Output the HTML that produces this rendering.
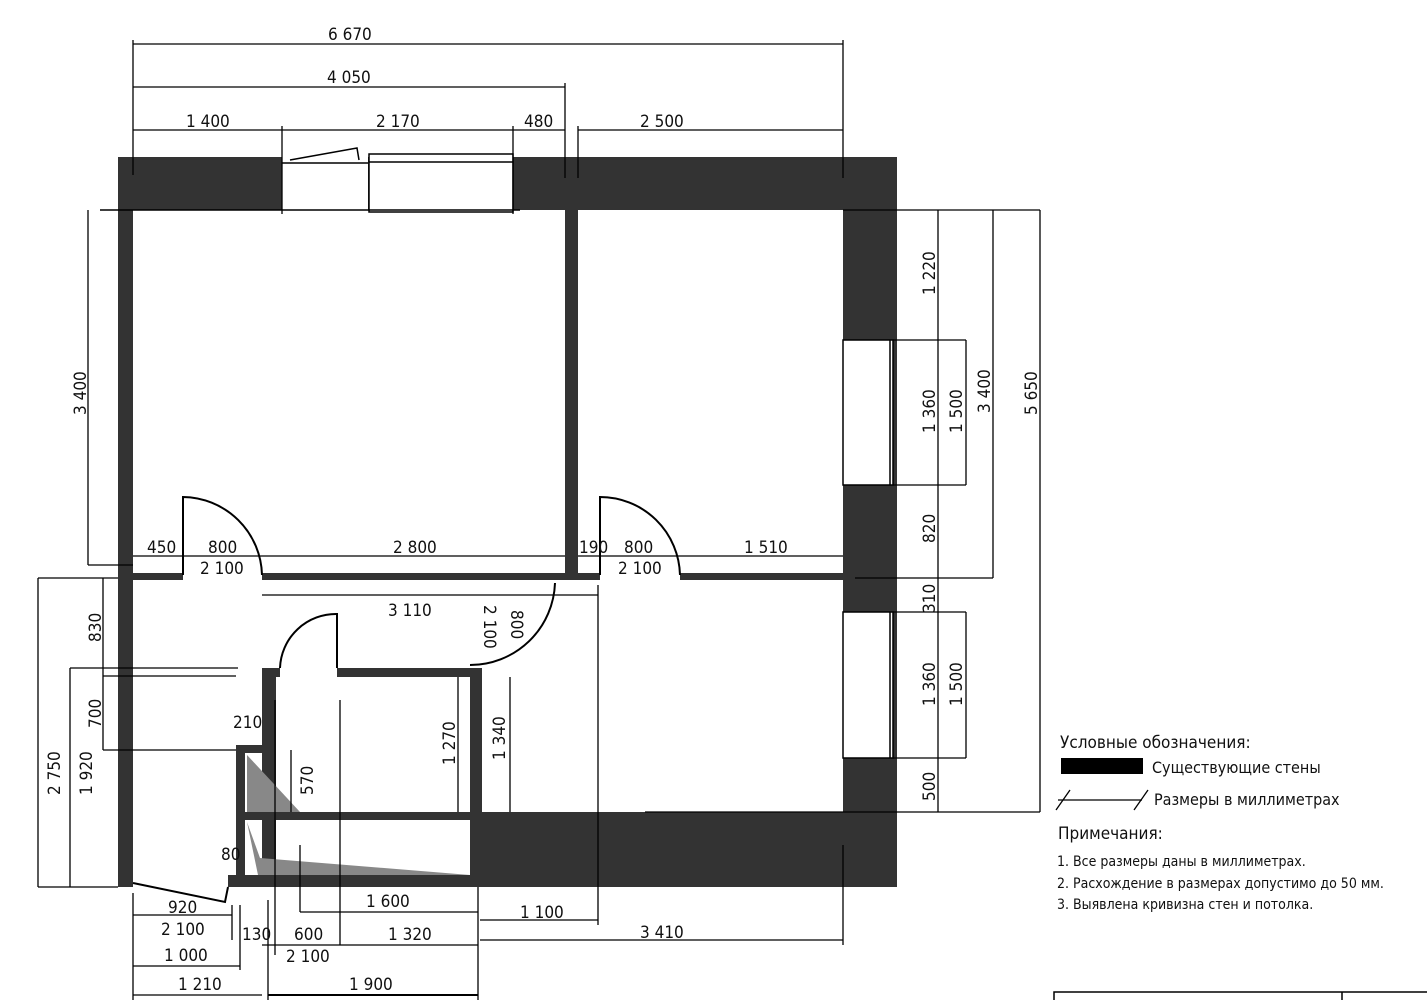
<!DOCTYPE html>
<html><head><meta charset="utf-8"><style>
html,body{margin:0;padding:0;background:#fff;}
svg{display:block}
text{font-family:"DejaVu Sans Condensed","DejaVu Sans","Liberation Sans",sans-serif;font-size:17px;fill:#111}
.t{font-size:16px}
</style></head><body>
<svg width="1427" height="1000" viewBox="0 0 1427 1000" xmlns="http://www.w3.org/2000/svg">
<g fill="#333">
<!-- top wall -->
<rect x="118" y="157" width="779" height="53"/>
<!-- left wall -->
<rect x="118" y="157" width="15" height="730"/>
<!-- right wall -->
<rect x="843" y="157" width="54" height="730"/>
<!-- bottom right wall -->
<rect x="470" y="812" width="427" height="75"/>
<!-- interior vertical -->
<rect x="565" y="210" width="13" height="368"/>
<!-- horizontal interior wall -->
<rect x="133" y="573" width="50" height="7"/>
<rect x="262" y="573" width="338" height="7"/>
<rect x="680" y="573" width="163" height="7"/>
<!-- bathroom block -->
<rect x="262" y="668" width="14" height="219"/>
<rect x="262" y="668" width="18" height="9"/>
<rect x="337" y="668" width="143" height="9"/>
<rect x="470" y="668" width="12" height="219"/>
<rect x="236" y="745" width="30" height="8"/>
<rect x="236" y="745" width="9" height="142"/>
<rect x="245" y="812" width="225" height="8"/>
<rect x="236" y="875" width="240" height="12"/>
<rect x="118" y="875" width="15" height="12"/>
<rect x="228" y="875" width="12" height="12"/>
</g>
<!-- window openings -->
<g fill="#fff" stroke="#000" stroke-width="1.5">
<rect x="282" y="157" width="86" height="53" stroke="none"/>
<rect x="369" y="154" width="144" height="58"/>
<line x1="282" y1="163" x2="368" y2="163"/>
<rect x="843" y="340" width="50" height="145"/>
<rect x="843" y="612" width="50" height="146"/>
</g>
<g stroke="#000" stroke-width="1.5" fill="none">
<polyline points="290,160 357,148 359,160"/>
<line x1="369" y1="162" x2="513" y2="162"/>
<line x1="890" y1="340" x2="890" y2="485"/><line x1="890" y1="612" x2="890" y2="758"/>
<line x1="100" y1="210" x2="520" y2="210"/>
</g>
<!-- gray triangles -->
<polygon points="247,755 247,812 300,812" fill="#888"/>
<polygon points="247,822 258,875 470,875 260,858" fill="#888"/>
<!-- doors -->
<g stroke="#000" stroke-width="2" fill="none">
<path d="M183,575 L183,497 A80,80 0 0 1 262,575"/>
<path d="M600,575 L600,497 A80,80 0 0 1 680,575"/>
<path d="M337,668 L337,614 A56,56 0 0 0 280,668"/>
<path d="M470,665 A85,85 0 0 0 555,583 L555,583"/>
<path d="M133,883 L225,902 L228,887"/>
</g>
<!-- dimension lines -->
<g stroke="#000" stroke-width="1.3" fill="none">
<line x1="133" y1="44" x2="843" y2="44"/>
<line x1="133" y1="87" x2="565" y2="87"/>
<line x1="133" y1="130" x2="565" y2="130"/><line x1="578" y1="130" x2="843" y2="130"/>
<line x1="133" y1="40" x2="133" y2="175"/><line x1="843" y1="40" x2="843" y2="178"/>
<line x1="565" y1="83" x2="565" y2="178"/><line x1="578" y1="126" x2="578" y2="178"/>
<line x1="282" y1="126" x2="282" y2="214"/><line x1="513" y1="126" x2="513" y2="214"/>
<!-- left -->
<line x1="88" y1="210" x2="88" y2="565"/><line x1="88" y1="565" x2="133" y2="565"/>
<!-- 556 row -->
<line x1="133" y1="556" x2="565" y2="556"/><line x1="578" y1="556" x2="843" y2="556"/>
<line x1="262" y1="595" x2="598" y2="595"/>
<line x1="598" y1="585" x2="598" y2="925"/>
<line x1="565" y1="565" x2="1040" y2="575" stroke="none"/>
<line x1="855" y1="578" x2="993" y2="578"/>
<!-- right verticals -->
<line x1="938" y1="210" x2="938" y2="812"/>
<line x1="966" y1="340" x2="966" y2="485"/><line x1="966" y1="612" x2="966" y2="758"/>
<line x1="993" y1="210" x2="993" y2="578"/>
<line x1="1040" y1="210" x2="1040" y2="812"/>
<line x1="843" y1="210" x2="1040" y2="210"/>
<line x1="893" y1="340" x2="966" y2="340"/><line x1="893" y1="485" x2="966" y2="485"/>
<line x1="893" y1="612" x2="966" y2="612"/><line x1="893" y1="758" x2="966" y2="758"/>
<line x1="645" y1="812" x2="1040" y2="812"/>
<!-- left lower -->
<line x1="38" y1="578" x2="38" y2="887"/><line x1="38" y1="578" x2="118" y2="578"/><line x1="38" y1="887" x2="118" y2="887"/>
<line x1="70" y1="668" x2="70" y2="887"/><line x1="70" y1="668" x2="238" y2="668"/>
<line x1="103" y1="578" x2="103" y2="750"/><line x1="103" y1="676" x2="236" y2="676"/><line x1="103" y1="750" x2="236" y2="750"/>
<line x1="510" y1="677" x2="510" y2="812"/><line x1="458" y1="677" x2="458" y2="812"/>
<line x1="291" y1="750" x2="291" y2="812"/>
<line x1="275" y1="700" x2="275" y2="955"/><line x1="340" y1="700" x2="340" y2="945"/>
<!-- bottom -->
<line x1="133" y1="893" x2="133" y2="1000"/>
<line x1="133" y1="915" x2="232" y2="915"/><line x1="232" y1="905" x2="232" y2="940"/>
<line x1="133" y1="966" x2="240" y2="966"/><line x1="240" y1="905" x2="240" y2="970"/>
<line x1="133" y1="995" x2="262" y2="995"/>
<line x1="262" y1="945" x2="478" y2="945"/>
<line x1="268" y1="900" x2="268" y2="1000"/>
<line x1="268" y1="995" x2="478" y2="995" stroke-width="2"/>
<line x1="300" y1="912" x2="478" y2="912"/><line x1="300" y1="845" x2="300" y2="912"/>
<line x1="478" y1="887" x2="478" y2="1000"/>
<line x1="480" y1="920" x2="598" y2="920"/>
<line x1="480" y1="940" x2="843" y2="940"/><line x1="843" y1="845" x2="843" y2="945"/>
</g>
<!-- labels -->
<text x="328" y="40">6 670</text>
<text x="327" y="83">4 050</text>
<text x="186" y="127">1 400</text>
<text x="376" y="127">2 170</text>
<text x="524" y="127">480</text>
<text x="640" y="127">2 500</text>
<text x="147" y="553">450</text>
<text x="208" y="553">800</text>
<text x="393" y="553">2 800</text>
<text x="579" y="553">190</text>
<text x="624" y="553">800</text>
<text x="744" y="553">1 510</text>
<text x="200" y="574">2 100</text>
<text x="618" y="574">2 100</text>
<text x="388" y="616">3 110</text>
<text x="233" y="728">210</text>
<text x="221" y="860">80</text>
<text x="168" y="913">920</text>
<text x="161" y="935">2 100</text>
<text x="164" y="961">1 000</text>
<text x="178" y="990">1 210</text>
<text x="242" y="940">130</text>
<text x="294" y="940">600</text>
<text x="388" y="940">1 320</text>
<text x="286" y="962">2 100</text>
<text x="366" y="907">1 600</text>
<text x="349" y="990">1 900</text>
<text x="520" y="918">1 100</text>
<text x="640" y="938">3 410</text>
<g>
<text transform="translate(86,395) rotate(-90)" x="-20" y="0">3 400</text>
<text transform="translate(60,775) rotate(-90)" x="-20" y="0">2 750</text>
<text transform="translate(92,775) rotate(-90)" x="-20" y="0">1 920</text>
<text transform="translate(101,627) rotate(-90)" x="-15" y="0">830</text>
<text transform="translate(101,713) rotate(-90)" x="-15" y="0">700</text>
<text transform="translate(455,745) rotate(-90)" x="-20" y="0">1 270</text>
<text transform="translate(505,740) rotate(-90)" x="-20" y="0">1 340</text>
<text transform="translate(313,780) rotate(-90)" x="-15" y="0">570</text>
<text transform="translate(484,625) rotate(90)" x="-20" y="0">2 100</text>
<text transform="translate(511,625) rotate(90)" x="-15" y="0">800</text>
<text transform="translate(935,275) rotate(-90)" x="-20" y="0">1 220</text>
<text transform="translate(935,413) rotate(-90)" x="-20" y="0">1 360</text>
<text transform="translate(962,413) rotate(-90)" x="-20" y="0">1 500</text>
<text transform="translate(935,528) rotate(-90)" x="-15" y="0">820</text>
<text transform="translate(935,598) rotate(-90)" x="-15" y="0">310</text>
<text transform="translate(935,686) rotate(-90)" x="-20" y="0">1 360</text>
<text transform="translate(962,686) rotate(-90)" x="-20" y="0">1 500</text>
<text transform="translate(935,786) rotate(-90)" x="-15" y="0">500</text>
<text transform="translate(990,393) rotate(-90)" x="-20" y="0">3 400</text>
<text transform="translate(1037,395) rotate(-90)" x="-20" y="0">5 650</text>
</g>
<!-- legend -->
<text x="1060" y="748">Условные обозначения:</text>
<rect x="1061" y="758" width="82" height="16" fill="#000"/>
<text class="t" x="1152" y="773">Существующие стены</text>
<g stroke="#000" stroke-width="1.3"><line x1="1058" y1="800" x2="1142" y2="800"/><line x1="1056" y1="810" x2="1070" y2="790"/><line x1="1134" y1="810" x2="1148" y2="790"/></g>
<text class="t" x="1154" y="805">Размеры в миллиметрах</text>
<text x="1058" y="839">Примечания:</text>
<text class="t" x="1057" y="866" style="font-size:14px">1. Все размеры даны в миллиметрах.</text>
<text class="t" x="1057" y="888" style="font-size:14px">2. Расхождение в размерах допустимо до 50 мм.</text>
<text class="t" x="1057" y="909" style="font-size:14px">3. Выявлена кривизна стен и потолка.</text>
<rect x="1054" y="992" width="380" height="20" fill="none" stroke="#000" stroke-width="1.5"/>
<line x1="1342" y1="992" x2="1342" y2="1000" stroke="#000" stroke-width="1.5"/>
</svg>
</body></html>
